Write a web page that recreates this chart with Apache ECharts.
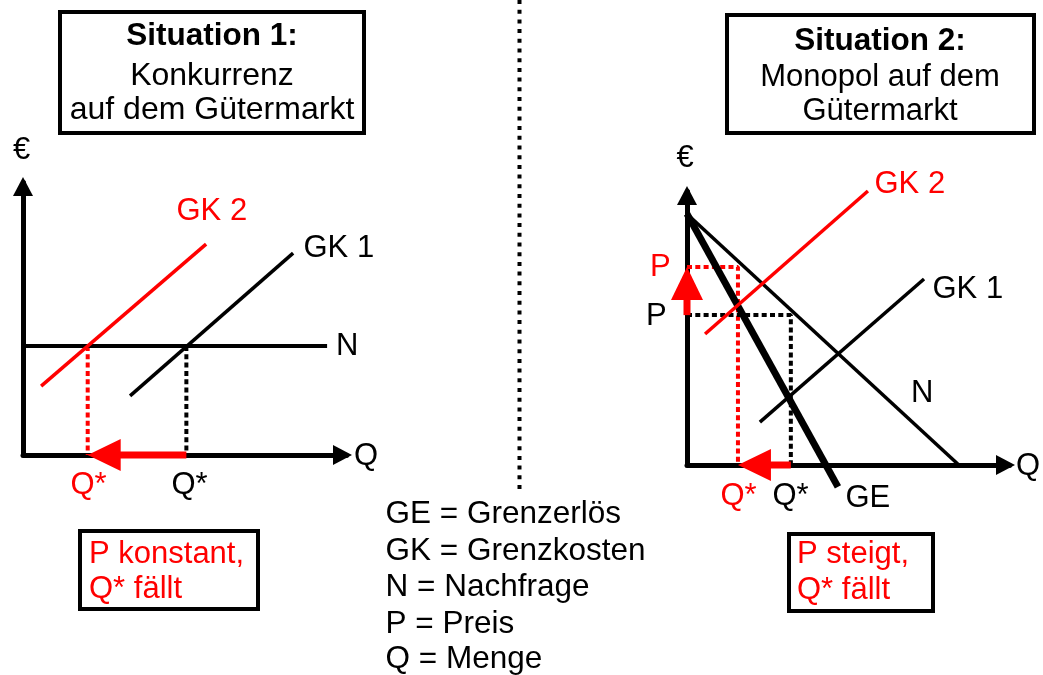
<!DOCTYPE html>
<html>
<head>
<meta charset="utf-8">
<style>
  html, body { margin: 0; padding: 0; background: #fff; }
  #chart { width: 1043px; height: 675px; }
</style>
<script src="https://cdn.jsdelivr.net/npm/echarts@6/dist/echarts.min.js"></script>
</head>
<body>
<div id="chart"></div>
<script>
// Situation 1: Konkurrenz (x = Menge, y = Preis, both 0..10)
const compN = [[0, 4.0], [9.4, 4.0]];
const compGK1 = [[3.31, 2.17], [8.35, 7.41]];
const compGK2 = [[0.56, 2.53], [5.66, 7.74]];
const compP = 4.0;
const compQ = [5.05, 2.0];          // Q* with GK 1, Q* with GK 2

// Situation 2: Monopol
const monoN = [[0, 9.18], [8.43, 0]];
const monoGE = [[0, 9.18], [4.68, -0.8]];
const monoGK1 = [[2.26, 1.57], [7.35, 6.8]];
const monoGK2 = [[0.56, 4.79], [5.61, 10.02]];
const monoP = [5.48, 7.24];         // P with GK 1, P with GK 2
const monoQ = [3.22, 1.58];         // Q* with GK 1, Q* with GK 2

const legendLines = ['GE = Grenzerlös', 'GK = Grenzkosten', 'N = Nachfrage', 'P = Preis', 'Q = Menge'];

const RED = '#ff0000';
const FONT = "'Liberation Sans', Arial, Helvetica, sans-serif";

const myChart = echarts.init(document.getElementById('chart'), null, { renderer: 'canvas' });

function axis(gridIndex) {
    return {
        gridIndex: gridIndex,
        type: 'value',
        min: 0,
        max: 10,
        axisLine: {
            onZero: true,
            symbol: ['none', 'triangle'],
            symbolSize: [20, 19],
            symbolOffset: [0, -4],
            lineStyle: { color: '#000', width: 5 }
        },
        axisTick: { show: false },
        axisLabel: { show: false },
        splitLine: { show: false }
    };
}

function curve(idx, data, color, width, dash) {
    return {
        type: 'line',
        xAxisIndex: idx,
        yAxisIndex: idx,
        data: data,
        symbol: 'none',
        clip: false,
        silent: true,
        lineStyle: { color: color, width: width, type: dash || 'solid' }
    };
}

// arrow: shaft + triangular head, ends given in axis units
function renderArrow(params, api) {
    const a = api.coord([api.value(0), api.value(1)]);
    const b = api.coord([api.value(2), api.value(3)]);
    const dx = b[0] - a[0], dy = b[1] - a[1];
    const len = Math.sqrt(dx * dx + dy * dy);
    const ux = dx / len, uy = dy / len;
    const headLen = 33, headW = 32;
    const bx = b[0] - ux * headLen, by = b[1] - uy * headLen;
    return {
        type: 'group',
        children: [
            {
                type: 'line',
                shape: { x1: a[0], y1: a[1], x2: bx + ux * 4, y2: by + uy * 4 },
                style: { stroke: RED, lineWidth: 7 }
            },
            {
                type: 'polygon',
                shape: {
                    points: [
                        [b[0], b[1]],
                        [bx - uy * headW / 2, by + ux * headW / 2],
                        [bx + uy * headW / 2, by - ux * headW / 2]
                    ]
                },
                style: { fill: RED }
            }
        ]
    };
}

function arrow(idx, from, to) {
    return {
        type: 'custom',
        xAxisIndex: idx,
        yAxisIndex: idx,
        silent: true,
        z: 5,
        encode: { x: [0, 2], y: [1, 3] },
        data: [[from[0], from[1], to[0], to[1]]],
        renderItem: renderArrow
    };
}

function txt(x, y, text, opts) {
    opts = opts || {};
    return {
        type: 'text',
        x: x,
        y: y,
        z: 20,
        silent: true,
        style: {
            text: text,
            font: (opts.bold ? 'bold ' : '') + (opts.size || 31) + 'px ' + FONT,
            fill: opts.color || '#000',
            align: opts.align || 'left',
            verticalAlign: 'middle'
        }
    };
}

function box(x, y, w, h) {
    return {
        type: 'rect',
        z: 15,
        silent: true,
        shape: { x: x, y: y, width: w, height: h },
        style: { fill: '#fff', stroke: '#000', lineWidth: 4 }
    };
}

const dotted = [5, 3.3];

const graphics = [
    // divider
    {
        type: 'line', z: 1, silent: true,
        shape: { x1: 519.5, y1: 0, x2: 519.5, y2: 492 },
        style: { stroke: '#000', lineWidth: 4, lineDash: [4, 5.7] }
    },
    box(60, 12, 304, 121),
    txt(212, 36, 'Situation 1:', { bold: true, align: 'center', size: 31.5 }),
    txt(212, 76, 'Konkurrenz', { align: 'center', size: 32 }),
    txt(212, 110, 'auf dem Gütermarkt', { align: 'center', size: 32 }),
    box(727, 15, 307, 118),
    txt(880, 41, 'Situation 2:', { bold: true, align: 'center', size: 31.5 }),
    txt(880, 77, 'Monopol auf dem', { align: 'center' }),
    txt(880, 111, 'Gütermarkt', { align: 'center' }),

    // left panel labels
    txt(21.5, 150, '€', { align: 'center' }),
    txt(176.5, 211, 'GK 2', { color: RED }),
    txt(303.5, 248, 'GK 1'),
    txt(336, 346, 'N'),
    txt(354, 456, 'Q'),
    txt(70.5, 485, 'Q*', { color: RED }),
    txt(171.5, 485, 'Q*'),

    // right panel labels
    txt(685, 158, '€', { align: 'center' }),
    txt(874.5, 184, 'GK 2', { color: RED }),
    txt(932.5, 289, 'GK 1'),
    txt(911, 393, 'N'),
    txt(845.5, 498, 'GE'),
    txt(1016, 466, 'Q'),
    txt(720.5, 496, 'Q*', { color: RED }),
    txt(772.5, 496, 'Q*'),
    txt(650, 267, 'P', { color: RED }),
    txt(646, 316, 'P'),

    // result boxes
    box(80, 531, 178, 78),
    txt(89, 554, 'P konstant,', { color: RED }),
    txt(89, 589, 'Q* fällt', { color: RED }),
    box(789, 534, 144, 77),
    txt(797, 554, 'P steigt,', { color: RED }),
    txt(797, 590, 'Q* fällt', { color: RED })
];

const legendY = [514, 551, 587, 624, 659];
legendLines.forEach(function (line, i) {
    graphics.push(txt(385.5, legendY[i], line, { size: 31.5 }));
});

const option = {
    backgroundColor: '#fff',
    animation: false,
    grid: [
        { left: 23, top: 182.5, width: 323.5, height: 272.5, outerBoundsMode: 'none' },
        { left: 687, top: 191.5, width: 322.5, height: 273.5, outerBoundsMode: 'none' }
    ],
    xAxis: [axis(0), axis(1)],
    yAxis: [axis(0), axis(1)],
    series: [
        // Situation 1
        curve(0, [[compQ[1], compP], [compQ[1], 0]], RED, 4, dotted),
        curve(0, [[compQ[0], compP], [compQ[0], 0]], '#000', 4, dotted),
        curve(0, compN, '#000', 4),
        curve(0, compGK1, '#000', 3.5),
        curve(0, compGK2, RED, 3.5),
        arrow(0, [compQ[0], 0], [compQ[1], 0]),

        // Situation 2
        curve(1, [[0, monoP[1]], [monoQ[1], monoP[1]], [monoQ[1], 0]], RED, 4, dotted),
        curve(1, [[0, monoP[0]], [monoQ[0], monoP[0]], [monoQ[0], 0]], '#000', 4, dotted),
        curve(1, monoN, '#000', 3.5),
        curve(1, monoGE, '#000', 7),
        curve(1, monoGK1, '#000', 3.5),
        curve(1, monoGK2, RED, 3.5),
        arrow(1, [0, monoP[0]], [0, monoP[1]]),
        arrow(1, [monoQ[0], 0], [monoQ[1], 0])
    ],
    graphic: graphics
};

myChart.setOption(option);

window.addEventListener('resize', function () {
    myChart.resize();
});
</script>
</body>
</html>
